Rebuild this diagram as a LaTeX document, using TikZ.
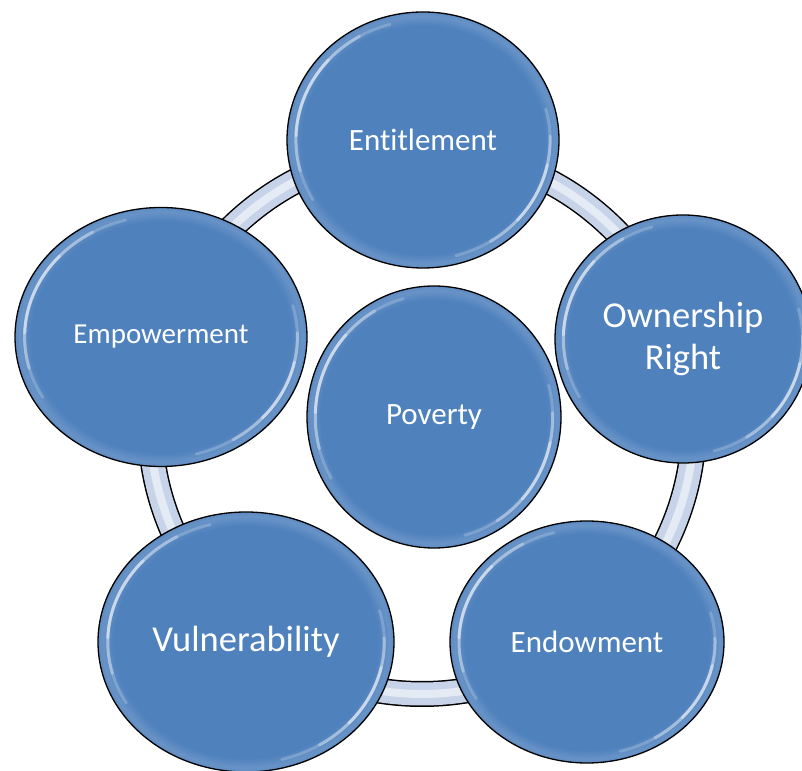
\documentclass[tikz,border=0pt]{standalone}
\usepackage{fontspec}
\setmainfont[Ligatures=NoCommon]{Carlito}
\usetikzlibrary{shapes.geometric,calc}

\definecolor{nodeblue}{RGB}{79,129,189}
\definecolor{bandblue}{RGB}{198,211,232}

% flat blue with a lighter rim just inside the outline
\pgfdeclareradialshading{bubble}{\pgfpoint{0bp}{0bp}}{%
  color(0bp)=(nodeblue); color(22.3bp)=(nodeblue);
  color(24.2bp)=(nodeblue!86!white); color(25bp)=(nodeblue!92!white);
  color(50bp)=(nodeblue!92!white)}

% white gloss arc inside a bubble: node, start, end, opacity
\newcommand\glint[4]{%
  \draw[glint,opacity=#4] let \p1=(#1.center), \p2=(#1.east), \p3=(#1.north),
    \n1={0.93*(\x2-\x1)}, \n2={0.93*(\y3-\y1)} in
    ($(\p1)+(#2:{\n1} and {\n2})$)
    arc[start angle=#2, end angle=#3, x radius=\n1, y radius=\n2];
}

\begin{document}
\begin{tikzpicture}[
  x=1pt, y=1pt,
  bubble/.style={ellipse,draw=black,line width=1.3pt,shading=bubble,
    inner sep=0pt,text=white,align=center},
  glint/.style={white,line width=3pt,line cap=round},
  mid/.style={font=\fontsize{31}{37}\selectfont},
  small/.style={font=\fontsize{29}{35}\selectfont},
  big/.style={font=\fontsize{36.5}{42}\selectfont}
]
  \useasboundingbox (0,0) rectangle (802,770);

  % ring behind the outer bubbles
  \coordinate (hub) at (422,348);
  \draw[black,line width=26pt] (hub) circle[radius=272];
  \draw[bandblue,line width=23pt] (hub) circle[radius=272];
  \draw[white,opacity=0.55,line width=8pt] (hub) circle[radius=272];

  \node[bubble,mid,minimum width=272,minimum height=256] (entitle) at (423,630) {Entitlement};
  \node[bubble,big,minimum width=256,minimum height=248] (owner) at (683,431) {Ownership\\Right};
  \node[bubble,mid,minimum width=274,minimum height=242] (endow) at (587,128) {Endowment};
  \node[bubble,big,minimum width=296,minimum height=260] (vulner) at (246,128) {Vulnerability};
  \node[bubble,small,minimum width=292,minimum height=259] (empower) at (161,433) {Empowerment};
  \node[bubble,mid,minimum width=254,minimum height=262] (poverty) at (434,353) {Poverty};

  \foreach \bub in {entitle,owner,endow,vulner,empower,poverty}{
    \glint{\bub}{105}{210}{0.2}
    \glint{\bub}{120}{195}{0.3}
    \glint{\bub}{138}{178}{0.4}
    \glint{\bub}{-75}{15}{0.2}
    \glint{\bub}{-58}{2}{0.3}
    \glint{\bub}{-42}{-12}{0.4}
  }
\end{tikzpicture}
\end{document}
